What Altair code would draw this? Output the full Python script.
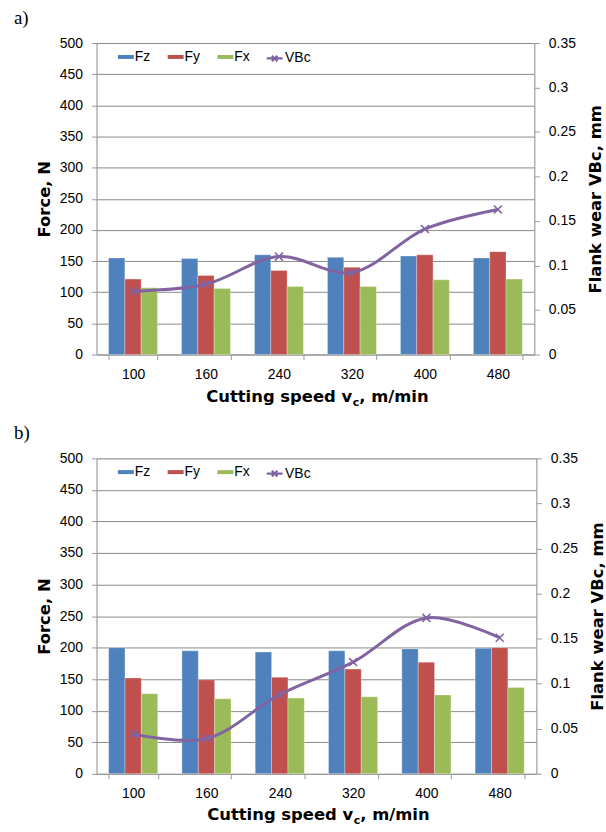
import altair as alt
import pandas as pd

speeds = ["100", "160", "240", "320", "400", "480"]
series = ["Fz", "Fy", "Fx"]
colors = ["#4F81BD", "#C0504D", "#9BBB59"]
purple = "#8064A2"

a_fz = [155, 154, 160, 156, 158, 155]
a_fy = [121, 127, 135, 140, 160, 165]
a_fx = [107, 106, 109, 109, 120, 121]
a_vbc = [0.071, 0.079, 0.110, 0.092, 0.141, 0.163]

b_fz = [200, 195, 193, 195, 198, 199]
b_fy = [152, 149, 153, 166, 177, 200]
b_fx = [127, 119, 120, 122, 125, 137]
b_vbc = [0.044, 0.039, 0.088, 0.124, 0.173, 0.151]

force_ticks = [0, 50, 100, 150, 200, 250, 300, 350, 400, 450, 500]
wear_ticks = [0, 0.05, 0.1, 0.15, 0.2, 0.25, 0.3, 0.35]

LABEL_FONT = "Liberation Sans"
TITLE_FONT = "DejaVu Sans"
TFS = 16.5

RECT = "M-1,-0.25H1V0.25H-1Z"
LINE_X = "M-1,0H1M-0.35,-0.35L0.35,0.35M-0.35,0.35L0.35,-0.35"
XMARK = "M-1,-1L1,1M-1,1L1,-1"


def panel(fz, fy, fx, vbc, tag, w, h, leg_y, tag_y, xt_y):
    bars_df = pd.DataFrame({
        "speed": speeds * 3,
        "series": [s for s in series for _ in speeds],
        "force": fz + fy + fx,
    })
    line_df = pd.DataFrame({"speed": speeds, "vbc": vbc, "name": ["VBc"] * len(speeds)})

    x_axis = alt.Axis(title=None, labelAngle=0, tickBand="extent", grid=False,
                      labelFont=LABEL_FONT, labelFontSize=14, labelColor="black",
                      labelPadding=8, tickSize=5, domainColor="#9A9A9A", tickColor="#9A9A9A")
    xenc = alt.X("speed:N", sort=speeds,
                 scale=alt.Scale(paddingInner=0.33, paddingOuter=0.165), axis=x_axis)

    bars = alt.Chart(bars_df).mark_bar(stroke="white", strokeWidth=0.6, strokeOpacity=0.5).encode(
        x=xenc,
        xOffset=alt.XOffset("series:N", sort=series,
                            scale=alt.Scale(paddingInner=0, paddingOuter=0)),
        y=alt.Y("force:Q", scale=alt.Scale(domain=[0, 500], nice=False),
                axis=alt.Axis(title="Force, N", orient="left", values=force_ticks, format="d",
                              grid=True, gridColor="#898989", gridWidth=1,
                              labelFont=LABEL_FONT, labelFontSize=14, labelColor="black",
                              labelPadding=9, tickSize=5,
                              domainColor="#9A9A9A", tickColor="#9A9A9A",
                              titleFont=TITLE_FONT, titleFontSize=TFS, titleFontWeight="bold",
                              titleAngle=270, titleX=-47.5, titleY=h / 2,
                              titleBaseline="alphabetic", titleAlign="center", titleColor="black")),
        color=alt.Color("series:N", sort=series,
                        scale=alt.Scale(domain=series, range=colors),
                        legend=alt.Legend(title=None, orient="none", legendX=21.5, legendY=leg_y,
                                          direction="horizontal", symbolType=RECT, symbolSize=256,
                                          symbolStrokeWidth=0, labelFont=LABEL_FONT,
                                          labelFontSize=14, labelColor="black", labelOffset=1,
                                          columnPadding=17, padding=0)),
    )

    y_right = alt.Y("vbc:Q", scale=alt.Scale(domain=[0, 0.35], nice=False),
                    axis=alt.Axis(title="Flank wear VBc, mm", orient="right", values=wear_ticks,
                                  format="~g", grid=False,
                                  labelFont=LABEL_FONT, labelFontSize=14, labelColor="black",
                                  labelPadding=9, tickSize=5,
                                  domainColor="#9A9A9A", tickColor="#9A9A9A",
                                  titleFont=TITLE_FONT, titleFontSize=TFS, titleFontWeight="bold",
                                  titleAngle=270, titleX=66, titleY=h / 2,
                                  titleBaseline="alphabetic", titleAlign="center",
                                  titleColor="black"))

    line = alt.Chart(line_df).mark_line(interpolate="catmull-rom", strokeWidth=3).encode(
        x=xenc,
        y=y_right,
        stroke=alt.Stroke("name:N", scale=alt.Scale(domain=["VBc"], range=[purple]),
                          legend=alt.Legend(title=None, orient="none", legendX=169.5,
                                            legendY=leg_y, direction="horizontal",
                                            symbolType=LINE_X, symbolSize=256,
                                            symbolStrokeWidth=2.2, labelFont=LABEL_FONT,
                                            labelFontSize=14, labelColor="black",
                                            labelOffset=1, padding=0)),
    )
    pts = alt.Chart(line_df).mark_point(shape=XMARK, filled=False, size=64, strokeWidth=1.6,
                                        color=purple, opacity=1).encode(
        x=xenc,
        y=y_right,
    )
    right = alt.layer(line, pts)

    tag_df = pd.DataFrame({"t": [tag]})
    tag_txt = alt.Chart(tag_df).mark_text(font="Liberation Serif", fontSize=19, align="left",
                                          baseline="alphabetic", color="black").encode(
        x=alt.value(-83), y=alt.value(tag_y), text="t:N")

    p = w / 2 + 37
    t1 = alt.Chart(pd.DataFrame({"t": ["Cutting speed v"]})).mark_text(
        font=TITLE_FONT, fontSize=TFS, fontWeight="bold", align="right",
        baseline="alphabetic", color="black").encode(
        x=alt.value(p), y=alt.value(h + xt_y), text="t:N")
    t2 = alt.Chart(pd.DataFrame({"t": ["c"]})).mark_text(
        font=TITLE_FONT, fontSize=11, fontWeight="bold", align="left",
        baseline="alphabetic", color="black").encode(
        x=alt.value(p + 0.5), y=alt.value(h + xt_y + 4), text="t:N")
    t3 = alt.Chart(pd.DataFrame({"t": [", m/min"]})).mark_text(
        font=TITLE_FONT, fontSize=TFS, fontWeight="bold", align="left",
        baseline="alphabetic", color="black").encode(
        x=alt.value(p + 7), y=alt.value(h + xt_y), text="t:N")

    left = alt.layer(bars, tag_txt, t1, t2, t3)
    return alt.layer(left, right).resolve_scale(y="independent").properties(width=w, height=h)


pa = panel(a_fz, a_fy, a_fx, a_vbc, "a)", 440, 313, 6.0, -18.8, 48.0)
pb = panel(b_fz, b_fy, b_fx, b_vbc, "b)", 442, 317, 5.8, -19.5, 46.5)

chart = alt.vconcat(pa, pb, spacing=104.4, bounds="flush").resolve_scale(
    color="independent", stroke="independent", xOffset="independent"
).resolve_legend(color="independent", stroke="independent").properties(
    padding={"left": 13, "top": 6.2, "right": 0, "bottom": 0}
).configure_view(strokeWidth=0).configure(background="white")

chart.save("out.html", embed_options={"renderer": "svg", "actions": False})
